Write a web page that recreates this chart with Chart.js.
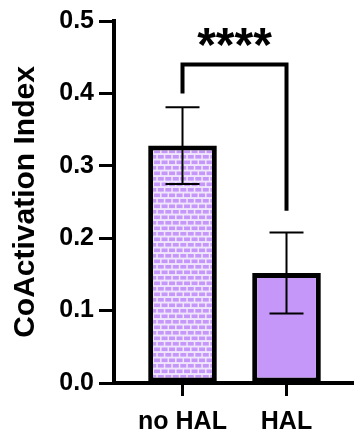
<!DOCTYPE html>
<html>
<head>
<meta charset="utf-8">
<script src="https://cdn.jsdelivr.net/npm/chart.js@4/dist/chart.umd.min.js"></script>
<style>
  html, body { margin: 0; padding: 0; background: #fff; }
  #wrap { width: 354px; height: 433px; position: relative; }
</style>
</head>
<body>
<div id="wrap"><canvas id="c" width="354" height="433"></canvas></div>
<script>
// Group names, means and SD of the coactivation index
const groups = ['no HAL', 'HAL'];
const means = [0.328, 0.152];
const sds = [0.053, 0.056];
const yTicks = [0, 0.1, 0.2, 0.3, 0.4, 0.5];

// Significance annotation between the two groups
const sigLabel = '****';
const sigLevel = 0.44;            // height of the bracket bar
const sigLegEnds = [0.40, 0.238]; // where each leg stops

const FONT = '"Liberation Sans", Arial, Helvetica, sans-serif';
const PURPLE = '#c497f8';
const INK = '#000000';

// Brick fill for the first bar
function brickPattern() {
  const t = document.createElement('canvas');
  t.width = 15; t.height = 11;
  const g = t.getContext('2d');
  g.fillStyle = '#f1e7fd';
  g.fillRect(0, 0, 15, 11);
  g.fillStyle = PURPLE;
  const bw = 6, bh = 3.6;
  [0.3, 7.8].forEach(x => g.fillRect(x, 1, bw, bh));
  [-3.45, 4.05, 11.55].forEach(x => g.fillRect(x, 6.5, bw, bh));
  return g.createPattern(t, 'repeat');
}

const ctx = document.getElementById('c').getContext('2d');

const annotations = {
  id: 'annotations',
  afterDatasetsDraw(chart) {
    const { ctx } = chart;
    const xs = chart.scales.x, ys = chart.scales.y;
    ctx.save();
    // error bars (mean ± SD)
    ctx.strokeStyle = INK;
    ctx.lineWidth = 2;
    ctx.lineCap = 'butt';
    groups.forEach((g, i) => {
      const x = xs.getPixelForValue(i);
      const yt = ys.getPixelForValue(means[i] + sds[i]);
      const yb = ys.getPixelForValue(means[i] - sds[i]);
      ctx.beginPath();
      ctx.moveTo(x, yt); ctx.lineTo(x, yb);
      ctx.moveTo(x - 17, yt); ctx.lineTo(x + 17, yt);
      ctx.moveTo(x - 17, yb); ctx.lineTo(x + 17, yb);
      ctx.stroke();
    });
    // significance bracket
    const x0 = xs.getPixelForValue(0), x1 = xs.getPixelForValue(1);
    const yTop = ys.getPixelForValue(sigLevel);
    ctx.lineWidth = 4;
    ctx.lineJoin = 'miter';
    ctx.beginPath();
    ctx.moveTo(x0, ys.getPixelForValue(sigLegEnds[0]));
    ctx.lineTo(x0, yTop);
    ctx.lineTo(x1, yTop);
    ctx.lineTo(x1, ys.getPixelForValue(sigLegEnds[1]));
    ctx.stroke();
    ctx.fillStyle = INK;
    ctx.font = 'bold 48px ' + FONT;
    ctx.textAlign = 'center';
    ctx.textBaseline = 'alphabetic';
    ctx.fillText(sigLabel, (x0 + x1) / 2, yTop - 3);
    ctx.restore();
  }
};

new Chart(ctx, {
  type: 'bar',
  data: {
    datasets: [{
      data: groups.map((g, i) => ({ x: i, y: means[i] })),
      backgroundColor: [brickPattern(), PURPLE],
      borderColor: INK,
      borderWidth: 5,
      borderSkipped: false,
      barPercentage: 0.66,
      categoryPercentage: 1
    }]
  },
  options: {
    responsive: false,
    animation: false,
    events: [],
    layout: { padding: { top: 21, right: 0, left: 0, bottom: 0 } },
    plugins: { legend: { display: false }, tooltip: { enabled: false } },
    scales: {
      x: {
        type: 'linear',
        min: -0.6587,
        max: 1.649,
        offset: false,
        afterBuildTicks(s) { s.ticks = groups.map((g, i) => ({ value: i })); },
        afterFit(s) { s.height = 50; },
        grid: {
          offset: false,
          drawOnChartArea: false,
          drawTicks: true,
          tickLength: 13,
          tickWidth: 3,
          tickColor: INK
        },
        border: { display: true, color: INK, width: 4 },
        ticks: {
          autoSkip: false,
          maxRotation: 0,
          padding: 11,
          color: INK,
          font: { family: FONT, size: 25, weight: 'bold' },
          callback: v => groups[v] ?? ''
        }
      },
      y: {
        type: 'linear',
        min: 0,
        max: 0.5,
        afterBuildTicks(s) { s.ticks = yTicks.map(v => ({ value: v })); },
        afterFit(s) { s.width = 114; },
        grid: {
          drawOnChartArea: false,
          drawTicks: true,
          tickLength: 15,
          tickWidth: 3,
          tickColor: INK
        },
        border: { display: true, color: INK, width: 4 },
        ticks: {
          padding: 5,
          color: INK,
          font: { family: FONT, size: 25, weight: 'bold' },
          callback: v => Number(v).toFixed(1)
        },
        title: {
          display: true,
          text: 'CoActivation Index',
          color: INK,
          padding: { top: 8, bottom: 0 },
          font: { family: FONT, size: 30, weight: 'bold' }
        }
      }
    }
  },
  plugins: [annotations]
});
</script>
</body>
</html>
